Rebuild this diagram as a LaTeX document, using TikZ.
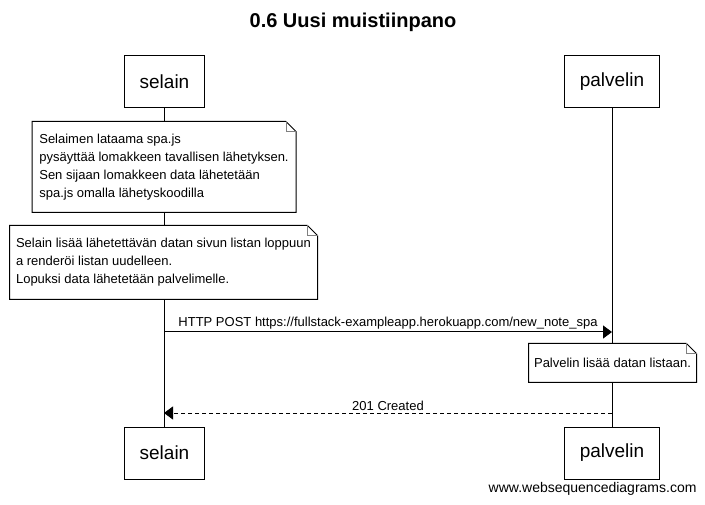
\documentclass[tikz,border=0pt]{standalone}
\usepackage{fontspec}
\setmainfont{Liberation Sans}
\usetikzlibrary{arrows.meta}

\begin{document}
\begin{tikzpicture}[x=1pt, y=-1pt, line width=1pt,
        >={Triangle[length=9pt,width=13pt]},
        actor/.style={draw, fill=white, minimum height=52pt, inner xsep=15pt,
            font=\fontsize{19}{23}\selectfont},
        note/.style={fill=white, align=left, inner sep=0pt,
            font=\fontsize{13}{18}\selectfont},
        msglabel/.style={above, inner sep=2pt, font=\fontsize{13}{15}\selectfont}]
        \useasboundingbox (0,0) rectangle (705,505);

        % Title
        \node[font=\fontsize{20}{24}\selectfont\bfseries] (title) at (353,22)
            {0.6 Uusi muistiinpano};

        % Actors
        \node[actor] (selain top) at (164.5,81.5) {selain};
        \node[actor] (palvelin top) at (612,81.5) {palvelin};
        \node[actor] (selain bot) at (164.5,453) {selain};
        \node[actor] (palvelin bot) at (612,453) {palvelin};

        % Lifelines
        \draw (selain top) -- (selain bot);
        \draw (palvelin top) -- (palvelin bot);

        % Notes
        \node[note, minimum width=263pt, minimum height=90pt] (note1) at (164,167)
            {Selaimen lataama spa.js\\
             pysäyttää lomakkeen tavallisen lähetyksen.\\
             Sen sijaan lomakkeen data lähetetään\\
             spa.js omalla lähetyskoodilla};
        \node[note, minimum width=307pt, minimum height=73pt] (note2) at (163.5,262.5)
            {Selain lisää lähetettävän datan sivun listan loppuun\\
             a renderöi listan uudelleen.\\
             Lopuksi data lähetetään palvelimelle.};
        \node[note, minimum width=167pt, minimum height=38pt] (note3) at (612.5,363)
            {Palvelin lisää datan listaan.};
        \foreach \n in {note1,note2,note3} {
            \draw (\n.south west) -- (\n.north west) -- ([xshift=-10pt]\n.north east)
                -- ([yshift=-10pt]\n.north east) -- (\n.south east) -- cycle;
            \draw[gray] ([xshift=-10pt]\n.north east) |- ([yshift=-10pt]\n.north east);
        }

        % Messages
        \coordinate (post from) at (164,332);
        \coordinate (post to) at (612,332);
        \draw[->] (post from) -- (post to) node[msglabel, midway]
            {HTTP POST https://fullstack-exampleapp.herokuapp.com/new\_note\_spa};

        \coordinate (reply from) at (612,413);
        \coordinate (reply to) at (164,413);
        \draw[->, dash pattern=on 4pt off 3pt] (reply from) -- (reply to)
            node[msglabel, midway] {201 Created};

        % Watermark
        \node[anchor=east, inner sep=0pt, font=\fontsize{14}{16}\selectfont] (wsd)
            at (697,489) {www.websequencediagrams.com};
    \end{tikzpicture}
\end{document}
